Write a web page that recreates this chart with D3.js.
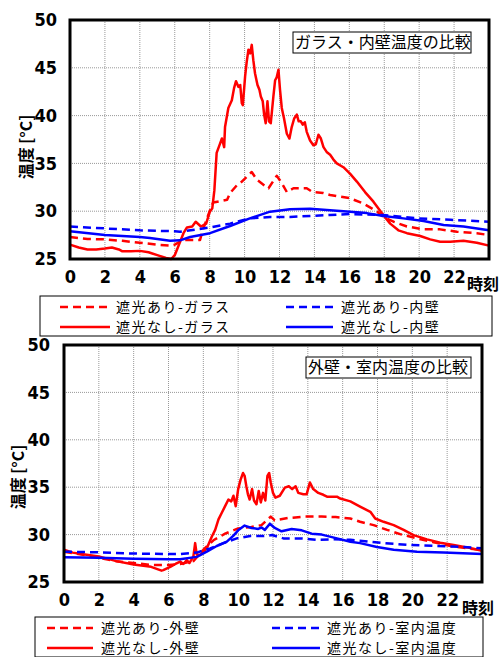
<!DOCTYPE html>
<html>
<head>
<meta charset="utf-8">
<script src="https://cdn.jsdelivr.net/npm/d3@7"></script>
<style>
  body { margin: 0; background: #fff; }
  svg { display: block; }
</style>
</head>
<body>
<svg id="chart" width="502" height="657"></svg>
<script>
// hour ticks and temperature ticks
const hourTicks = [0, 2, 4, 6, 8, 10, 12, 14, 16, 18, 20, 22, 24];
const tempTicks = [25, 30, 35, 40, 45, 50];

// top chart: glass / inner wall  [hour, °C]
const glassShade = [[0,27.3],[1,27.1],[2,27.05],[3,26.9],[4,26.7],[5,26.5],[5.8,26.4],[6,26.5],[6.5,27.0],[7.45,27.0],[7.6,28.0],[8.1,30.5],[8.2,30.9],[9.0,31.2],[9.17,31.9],[9.55,32.7],[9.74,32.9],[10.12,33.6],[10.41,34.1],[10.7,33.3],[11.2,32.6],[11.37,32.4],[11.84,33.7],[12.13,32.95],[12.42,32.0],[12.8,32.4],[13.56,32.4],[13.9,32.0],[14.5,31.9],[14.9,31.7],[16.05,31.35],[16.8,30.8],[17.6,29.95],[17.95,29.4],[18.53,28.9],[19.3,28.4],[20.25,28.1],[21.2,28.1],[22.16,27.85],[23.3,27.7],[24,27.5]];
const glassNoShade = [[0,26.5],[0.5,26.2],[1,26.0],[1.5,26.0],[2,26.1],[2.4,26.2],[2.8,26.0],[3,25.8],[3.5,25.8],[4,25.85],[4.5,25.7],[5,25.4],[5.5,25.1],[5.8,25.0],[6,25.4],[6.2,26.3],[6.5,27.7],[6.7,28.3],[7.0,28.4],[7.2,28.9],[7.5,28.4],[7.8,28.7],[8.0,29.9],[8.15,30.3],[8.27,32.2],[8.4,36.1],[8.6,37.1],[8.7,37.6],[8.83,36.7],[8.88,38.8],[9.07,40.8],[9.27,41.6],[9.4,42.9],[9.51,43.6],[9.65,43.0],[9.75,43.2],[9.84,41.3],[9.9,41.1],[10.03,44.1],[10.12,45.6],[10.22,46.9],[10.32,46.5],[10.41,47.4],[10.5,45.8],[10.6,44.4],[10.74,43.2],[10.85,42.7],[10.93,42.0],[11.04,41.5],[11.12,40.1],[11.21,39.2],[11.31,41.5],[11.4,39.4],[11.5,39.2],[11.65,42.0],[11.75,43.7],[11.84,44.0],[11.94,44.8],[12.03,42.7],[12.13,40.8],[12.26,39.7],[12.42,38.1],[12.57,37.6],[12.7,38.8],[12.84,39.7],[12.99,40.1],[13.1,39.4],[13.22,39.4],[13.33,39.05],[13.45,39.3],[13.56,38.3],[13.75,37.4],[13.94,36.9],[14.08,37.0],[14.23,38.0],[14.37,37.6],[14.52,36.7],[14.7,36.2],[14.9,35.9],[15.09,35.4],[15.28,35.0],[15.66,34.6],[16.05,33.9],[16.43,33.1],[16.9,32.0],[17.38,31.0],[17.86,29.8],[18.34,28.7],[18.81,28.0],[19.3,27.7],[20.06,27.4],[20.63,27.05],[21.2,26.8],[21.78,26.8],[22.54,26.9],[23.3,26.7],[24,26.4]];
const wallShade = [[0,28.4],[2,28.2],[4,28.0],[6,27.9],[6.3,27.85],[8.02,28.3],[9.17,28.7],[10.3,29.25],[11.46,29.4],[12.6,29.4],[13.75,29.5],[14.9,29.6],[16.05,29.7],[17.95,29.6],[19.9,29.25],[21.8,29.1],[24,28.9]];
const wallNoShade = [[0,27.9],[2,27.5],[4,27.3],[4.58,27.2],[5.73,26.9],[6.3,26.95],[6.88,27.3],[8.02,27.7],[9.17,28.45],[10.3,29.25],[11.46,29.95],[12.6,30.2],[13.75,30.25],[14.9,30.1],[16.05,29.95],[17.0,29.8],[17.95,29.5],[19.1,29.25],[20.25,28.97],[21.4,28.55],[22.54,28.4],[24,28.0]];

// bottom chart: outer wall / room
const outerShade = [[0,28.2],[1,27.9],[2,27.55],[3,27.2],[4,27.0],[5,26.8],[6,26.8],[6.67,26.9],[7.43,27.2],[8.0,28.4],[8.58,29.4],[9.25,30.1],[10.0,30.65],[10.76,30.8],[11.34,31.0],[11.87,31.9],[12.1,31.5],[12.87,31.75],[13.83,31.9],[14.8,31.9],[15.6,31.85],[16.44,31.7],[17.0,31.35],[17.78,31.0],[18.55,30.5],[19.3,30.05],[20.27,29.6],[21.22,29.2],[22.2,28.8],[23.14,28.55],[24,28.4]];
const outerNoShade = [[0,28.4],[0.5,28.1],[1,27.95],[2,27.7],[3,27.2],[4,26.85],[5,26.6],[5.6,26.2],[5.7,26.25],[6.1,26.6],[6.4,26.9],[6.67,27.15],[6.85,26.9],[7.05,27.3],[7.2,27.0],[7.43,27.7],[7.53,29.1],[7.62,27.9],[7.82,27.85],[8.2,28.55],[8.49,29.8],[8.68,30.5],[8.87,31.6],[9.06,32.3],[9.25,33.0],[9.44,33.7],[9.6,33.5],[9.73,34.1],[9.86,33.0],[10.0,34.8],[10.14,35.8],[10.28,36.5],[10.37,36.2],[10.47,35.1],[10.56,34.25],[10.66,33.7],[10.8,34.8],[10.91,33.6],[11.05,33.2],[11.18,34.6],[11.3,33.4],[11.43,34.4],[11.56,33.6],[11.68,36.2],[11.78,36.5],[11.87,35.5],[12.0,34.4],[12.14,33.9],[12.39,34.1],[12.68,34.95],[12.91,35.1],[13.1,34.8],[13.3,35.1],[13.45,34.4],[13.74,34.25],[13.93,34.25],[14.12,35.5],[14.31,34.8],[14.6,34.4],[14.89,34.2],[15.1,34.0],[15.67,34.0],[15.86,33.8],[16.44,33.5],[17.0,32.95],[17.59,32.4],[17.87,31.7],[18.35,31.35],[18.93,31.0],[19.5,30.5],[20.07,29.95],[20.84,29.5],[21.6,29.15],[22.37,28.9],[23.14,28.65],[24,28.3]];
const roomShade = [[0,28.2],[2,28.13],[4,28.0],[6,27.95],[6.67,27.95],[7.62,28.1],[8.4,28.55],[9.16,29.1],[9.92,29.6],[10.69,29.85],[11.46,29.85],[11.94,29.95],[12.6,29.6],[13.56,29.6],[14.52,29.45],[15.48,29.5],[16.44,29.45],[18.35,29.1],[19.9,28.9],[21.4,28.8],[22.95,28.7],[24,28.55]];
const roomNoShade = [[0,27.6],[2,27.55],[4,27.45],[6,27.4],[6.67,27.4],[7.62,27.65],[8.2,28.2],[8.77,28.8],[9.35,29.25],[9.73,29.9],[10.0,30.45],[10.37,30.95],[10.76,30.7],[11.15,30.6],[11.34,30.75],[11.53,30.5],[11.82,31.15],[12.1,30.7],[12.49,30.35],[13.07,30.6],[13.65,30.45],[14.22,30.1],[14.8,30.0],[15.67,29.6],[16.44,29.25],[17.0,29.1],[17.97,28.7],[18.93,28.4],[20.27,28.2],[21.8,28.1],[24,27.95]];

const svg = d3.select("#chart");
const numFont = "'Liberation Sans Narrow', 'Arial Narrow', 'DejaVu Sans Condensed', sans-serif";
const jpFont = "'Noto Sans CJK JP', sans-serif";

function drawChart(cfg) {
    const x = d3.scaleLinear().domain([0, 24]).range([cfg.left, cfg.right]);
    const y = d3.scaleLinear().domain([25, 50]).range([cfg.bottom, cfg.top]);

    // grid
    const g = svg.append("g");
    g.selectAll("line.vgrid")
        .data(hourTicks.slice(1, -1))
        .enter().append("line")
        .attr("x1", d => x(d)).attr("x2", d => x(d))
        .attr("y1", cfg.top).attr("y2", cfg.bottom)
        .attr("stroke", "#999").attr("stroke-width", 1)
        .attr("stroke-dasharray", "1,1");
    g.selectAll("line.hgrid")
        .data(tempTicks.slice(1, -1))
        .enter().append("line")
        .attr("x1", cfg.left).attr("x2", cfg.right)
        .attr("y1", d => y(d)).attr("y2", d => y(d))
        .attr("stroke", "#999").attr("stroke-width", 1)
        .attr("stroke-dasharray", "1,1");

    // axes (labels only)
    const xAxis = svg.append("g")
        .attr("transform", `translate(0,${cfg.bottom})`)
        .call(d3.axisBottom(x).tickValues(hourTicks).tickSize(0).tickPadding(cfg.xPad)
            .tickFormat(d => d === 24 ? "" : d));
    xAxis.select(".domain").remove();
    xAxis.selectAll("text")
        .attr("font-family", numFont).attr("font-weight", "bold")
        .attr("font-size", "18px").attr("fill", "#000");

    const yAxis = svg.append("g")
        .attr("transform", `translate(${cfg.left},0)`)
        .call(d3.axisLeft(y).tickValues(tempTicks).tickSize(0).tickPadding(cfg.yPad));
    yAxis.select(".domain").remove();
    yAxis.selectAll("text")
        .attr("font-family", numFont).attr("font-weight", "bold")
        .attr("font-size", "18px").attr("fill", "#000");

    // series
    const line = d3.line().x(d => x(d[0])).y(d => y(d[1]));
    cfg.series.forEach(s => {
        svg.append("path")
            .datum(s.data)
            .attr("d", line)
            .attr("fill", "none")
            .attr("stroke", s.color)
            .attr("stroke-width", 2.5)
            .attr("stroke-linejoin", "round")
            .attr("stroke-dasharray", s.dashed ? "8,5" : null);
    });

    // frame
    svg.append("rect")
        .attr("x", cfg.left).attr("y", cfg.top)
        .attr("width", cfg.right - cfg.left).attr("height", cfg.bottom - cfg.top)
        .attr("fill", "none").attr("stroke", "#000").attr("stroke-width", 3);

    // title box
    svg.append("rect")
        .attr("x", cfg.titleBox[0]).attr("y", cfg.titleBox[1])
        .attr("width", cfg.titleBox[2]).attr("height", cfg.titleBox[3])
        .attr("fill", "#fff").attr("stroke", "#000").attr("stroke-width", 1);
    svg.append("text")
        .attr("x", cfg.titleBox[0] + 2).attr("y", cfg.titleBox[1] + 16)
        .attr("font-family", jpFont).attr("font-size", "16px")
        .text(cfg.title);

    // axis titles
    svg.append("text")
        .attr("transform", `translate(${cfg.yTitle[0]},${cfg.yTitle[1]}) rotate(-90)`)
        .attr("text-anchor", "middle")
        .attr("dy", "0.35em")
        .attr("font-family", jpFont).attr("font-weight", "bold")
        .attr("font-size", "16px")
        .text("温度 [°C]");
    svg.append("text")
        .attr("x", cfg.xTitle[0]).attr("y", cfg.xTitle[1])
        .attr("font-family", jpFont).attr("font-weight", "bold")
        .attr("font-size", "16px")
        .text("時刻");

    // legend
    const lg = cfg.legend;
    svg.append("rect")
        .attr("x", lg.x).attr("y", lg.y)
        .attr("width", lg.w).attr("height", 40)
        .attr("fill", "#fff").attr("stroke", "#000").attr("stroke-width", 1);
    cfg.series.forEach((s, i) => {
        const col = i < 2 ? 0 : 1;
        const row = i % 2;
        const cy = lg.y + 11 + row * 20;
        svg.append("line")
            .attr("x1", lg.cols[col][0]).attr("x2", lg.cols[col][1])
            .attr("y1", cy).attr("y2", cy)
            .attr("stroke", s.color).attr("stroke-width", 2.5)
            .attr("stroke-dasharray", s.dashed ? "8,5" : null);
        svg.append("text")
            .attr("x", lg.cols[col][2]).attr("y", cy)
            .attr("dy", "0.36em")
            .attr("font-family", jpFont).attr("font-size", "14px")
            .attr("letter-spacing", "1.5px")
            .text(s.name);
    });
}

drawChart({
    left: 70, right: 489, top: 20, bottom: 259,
    xPad: 11, yPad: 13,
    title: "ガラス・内壁温度の比較",
    titleBox: [293, 32, 178, 21],
    yTitle: [26, 147],
    xTitle: [467, 290],
    legend: { x: 40, y: 296, w: 452, cols: [[60, 110, 116], [286, 333, 341]] },
    series: [
        { name: "遮光あり-ガラス", data: glassShade, color: "#ff0000", dashed: true },
        { name: "遮光なし-ガラス", data: glassNoShade, color: "#ff0000", dashed: false },
        { name: "遮光あり-内壁", data: wallShade, color: "#0000ff", dashed: true },
        { name: "遮光なし-内壁", data: wallNoShade, color: "#0000ff", dashed: false }
    ]
});

drawChart({
    left: 64, right: 482, top: 345, bottom: 582,
    xPad: 11, yPad: 14,
    title: "外壁・室内温度の比較",
    titleBox: [306, 357, 165, 21],
    yTitle: [18, 477],
    xTitle: [462, 614],
    legend: { x: 35, y: 617, w: 448, cols: [[47, 93, 101], [272, 320, 327]] },
    series: [
        { name: "遮光あり-外壁", data: outerShade, color: "#ff0000", dashed: true },
        { name: "遮光なし-外壁", data: outerNoShade, color: "#ff0000", dashed: false },
        { name: "遮光あり-室内温度", data: roomShade, color: "#0000ff", dashed: true },
        { name: "遮光なし-室内温度", data: roomNoShade, color: "#0000ff", dashed: false }
    ]
});
</script>
</body>
</html>
